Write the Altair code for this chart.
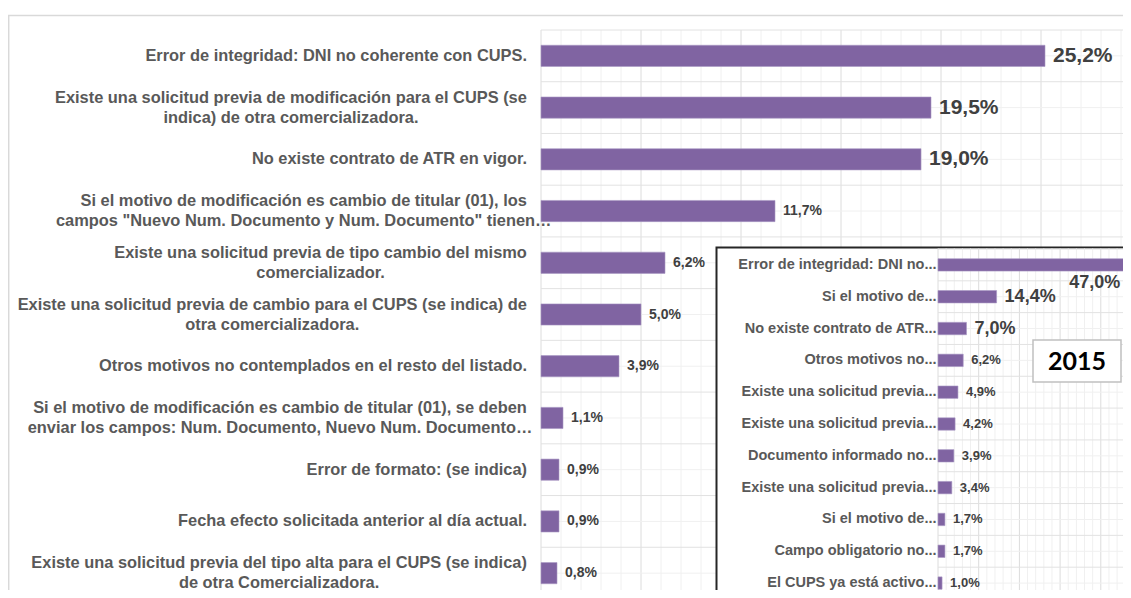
import altair as alt
import pandas as pd

# ---------------- data ----------------
main_labels = [
    "Error de integridad: DNI no coherente con CUPS.",
    "Existe una solicitud previa de modificación para el CUPS (se\nindica) de otra comercializadora.",
    "No existe contrato de ATR en vigor.",
    "Si el motivo de modificación es cambio de titular (01), los\ncampos \"Nuevo Num. Documento y Num. Documento\" tienen…",
    "Existe una solicitud previa de tipo cambio del mismo\ncomercializador.",
    "Existe una solicitud previa de cambio para el CUPS (se indica) de\notra comercializadora.",
    "Otros motivos no contemplados en el resto del listado.",
    "Si el motivo de modificación es cambio de titular (01), se deben\nenviar los campos: Num. Documento, Nuevo Num. Documento…",
    "Error de formato: (se indica)",
    "Fecha efecto solicitada anterior al día actual.",
    "Existe una solicitud previa del tipo alta para el CUPS (se indica)\nde otra Comercializadora.",
]
main_values = [25.2, 19.5, 19.0, 11.7, 6.2, 5.0, 3.9, 1.1, 0.9, 0.9, 0.8]

inset_labels = [
    "Error de integridad: DNI no...",
    "Si el motivo de...",
    "No existe contrato de ATR...",
    "Otros motivos no...",
    "Existe una solicitud previa...",
    "Existe una solicitud previa...",
    "Documento informado no...",
    "Existe una solicitud previa...",
    "Si el motivo de...",
    "Campo obligatorio no...",
    "El CUPS ya está activo...",
]
inset_values = [47.0, 14.4, 7.0, 6.2, 4.9, 4.2, 3.9, 3.4, 1.7, 1.7, 1.0]
inset_title = ["2015"]

# ---------------- layout helpers ----------------
FONT = "Liberation Sans"
LABEL_SIZE = 16.4
MAIN_W, MAIN_H = 582, 560
PX = 20.0                            # pixels per percent point (main chart)
MAIN_MAX = MAIN_W / PX               # x domain max of the main chart

# Arial/Helvetica Bold advance widths (1/1000 em) to centre wrapped labels
_up = dict(zip("ABCDEFGHIJKLMNOPQRSTUVWXYZ",
               [722, 722, 722, 722, 667, 611, 778, 722, 278, 556, 722, 611, 833,
                722, 778, 667, 778, 722, 667, 611, 722, 667, 944, 667, 667, 611]))
_lo = dict(zip("abcdefghijklmnopqrstuvwxyz",
               [556, 611, 556, 611, 556, 333, 611, 611, 278, 278, 556, 278, 889,
                611, 611, 611, 611, 389, 556, 333, 611, 556, 778, 556, 556, 500]))
_misc = {" ": 278, "!": 333, '"': 474, "%": 889, "(": 333, ")": 333, ",": 278,
         "-": 333, ".": 278, ":": 333, "…": 1000}
_acc = {"á": "a", "é": "e", "í": "i", "ó": "o", "ú": "u", "ñ": "n"}


def text_width(s, size):
    tot = 0
    for ch in s:
        ch = _acc.get(ch, ch)
        if ch.isdigit():
            tot += 556
        else:
            tot += _up.get(ch, _lo.get(ch, _misc.get(ch, 556)))
    return tot * size / 1000.0


main_keys = [f"{i:02d}" for i in range(1, len(main_values) + 1)]
main_df = pd.DataFrame({"k": main_keys, "label": main_labels, "v": main_values})
main_df["nl"] = [len(s.split("\n")) for s in main_labels]
main_df["lx"] = [
    0.0 if n == 1 else -(text_width(s.split("\n")[0], LABEL_SIZE) / 2) / PX
    for s, n in zip(main_labels, main_df["nl"])
]

inset_keys = [f"{i:02d}" for i in range(1, len(inset_values) + 1)]
inset_df = pd.DataFrame({"k": inset_keys, "label": inset_labels, "v": inset_values})

main_grid = pd.DataFrame({"g": list(range(0, 30))})
inset_grid = pd.DataFrame({"g": list(range(0, 52, 2))})
one = pd.DataFrame({"t": inset_title})

TXT = "replace(format(datum.v, '.1f'), '.', ',') + '%'"
PURPLE = "#8064A2"

# ---------------- main chart ----------------
xs = alt.Scale(domain=[0, MAIN_MAX], range=[0, MAIN_W], nice=False)
ys = alt.Scale(domain=main_keys, range=[0, 569], paddingInner=0, paddingOuter=0)

frame = alt.Chart(one).mark_rect(fill=None, stroke="#d9d9d9", strokeWidth=1.5).encode(
    x=alt.value(-532.3), y=alt.value(-14.5), x2=alt.value(700), y2=alt.value(700)
)

vgrid = alt.Chart(main_grid).mark_rule(strokeWidth=1).encode(
    x=alt.X("g:Q", scale=xs, axis=None),
    y=alt.value(0), y2=alt.value(600),
    color=alt.condition("datum.g % 5 === 0", alt.value("#dcdcdc"), alt.value("#f0f0f0")),
)
hgrid_b = alt.Chart(main_df).mark_rule(color="#e2e2e2", strokeWidth=1).encode(
    y=alt.Y("k:N", scale=ys, axis=None, bandPosition=0),
    x=alt.value(0), x2=alt.value(700),
)
hgrid_c = alt.Chart(main_df).mark_rule(color="#f0f0f0", strokeWidth=1).encode(
    y=alt.Y("k:N", scale=ys, axis=None, bandPosition=0.5),
    x=alt.value(0), x2=alt.value(700),
)
bars = alt.Chart(main_df).mark_bar(
    color=PURPLE, height=alt.RelativeBandSize(0.41), stroke="#a999c4", strokeWidth=0.6
).encode(
    x=alt.X("v:Q", scale=xs, axis=None),
    y=alt.Y("k:N", scale=ys, axis=None),
)
vals = alt.Chart(main_df).transform_calculate(txt=TXT).mark_text(
    align="left", baseline="middle", dx=8, font=FONT, fontWeight="bold", color="#404040"
).encode(
    x=alt.X("v:Q", scale=xs, axis=None),
    y=alt.Y("k:N", scale=ys, axis=None),
    text="txt:N",
    size=alt.condition("datum.v > 15", alt.value(21), alt.value(14)),
)
lab1 = alt.Chart(main_df).transform_filter("datum.nl == 1").mark_text(
    align="right", baseline="middle", dx=-14, font=FONT, fontWeight="bold",
    fontSize=LABEL_SIZE, color="#595959", lineBreak="\n", lineHeight=20,
).encode(
    x=alt.X("lx:Q", scale=xs, axis=None),
    y=alt.Y("k:N", scale=ys, axis=None),
    text="label:N",
)
lab2 = alt.Chart(main_df).transform_filter("datum.nl > 1").mark_text(
    align="center", baseline="middle", dx=-14, dy=-10, font=FONT, fontWeight="bold",
    fontSize=LABEL_SIZE, color="#595959", lineBreak="\n", lineHeight=20,
).encode(
    x=alt.X("lx:Q", scale=xs, axis=None),
    y=alt.Y("k:N", scale=ys, axis=None),
    text="label:N",
)
main = alt.layer(frame, vgrid, hgrid_b, hgrid_c, bars, vals, lab1, lab2)

# ---------------- inset (2015) ----------------
X0 = 397
xs2 = alt.Scale(domain=[0, 50], range=[X0, X0 + 50 * 4.07], nice=False)
ys2 = alt.Scale(domain=inset_keys, range=[219, 569], paddingInner=0, paddingOuter=0)

ibox = alt.Chart(one).mark_rect(fill="white", stroke="#262626", strokeWidth=2).encode(
    x=alt.value(175.5), y=alt.value(217.5), x2=alt.value(700), y2=alt.value(700)
)
ivgrid = alt.Chart(inset_grid).mark_rule(strokeWidth=1).encode(
    x=alt.X("g:Q", scale=xs2, axis=None),
    y=alt.value(218.5), y2=alt.value(600),
    color=alt.condition("datum.g % 10 === 0", alt.value("#dcdcdc"), alt.value("#f0f0f0")),
)
ihgrid_b = alt.Chart(inset_df).mark_rule(color="#e2e2e2", strokeWidth=1).encode(
    y=alt.Y("k:N", scale=ys2, axis=None, bandPosition=0),
    x=alt.value(X0), x2=alt.value(700),
)
ihgrid_c = alt.Chart(inset_df).mark_rule(color="#f0f0f0", strokeWidth=1).encode(
    y=alt.Y("k:N", scale=ys2, axis=None, bandPosition=0.5),
    x=alt.value(X0), x2=alt.value(700),
)
ibars = alt.Chart(inset_df).mark_bar(
    color=PURPLE, height=alt.RelativeBandSize(0.39), stroke="#a999c4", strokeWidth=0.6
).encode(
    x=alt.X("v:Q", scale=xs2, axis=None),
    y=alt.Y("k:N", scale=ys2, axis=None),
)
ivals = alt.Chart(inset_df).transform_joinaggregate(vmax="max(v)").transform_filter(
    "datum.v < datum.vmax"
).transform_calculate(txt=TXT).mark_text(
    align="left", baseline="middle", dx=8, font=FONT, fontWeight="bold", color="#404040"
).encode(
    x=alt.X("v:Q", scale=xs2, axis=None),
    y=alt.Y("k:N", scale=ys2, axis=None),
    text="txt:N",
    size=alt.condition("datum.v >= 7", alt.value(18), alt.value(13)),
)
ivmax = alt.Chart(inset_df).transform_joinaggregate(vmax="max(v)").transform_filter(
    "datum.v == datum.vmax"
).transform_calculate(txt=TXT).mark_text(
    align="right", baseline="middle", dx=-9, dy=18, font=FONT, fontWeight="bold",
    color="#404040", fontSize=18,
).encode(
    x=alt.X("v:Q", scale=xs2, axis=None),
    y=alt.Y("k:N", scale=ys2, axis=None),
    text="txt:N",
)
ilabs = alt.Chart(inset_df).transform_calculate(z="0").mark_text(
    align="right", baseline="middle", dx=-1.5, font=FONT, fontWeight="bold",
    fontSize=14.5, color="#595959",
).encode(
    x=alt.X("z:Q", scale=xs2, axis=None),
    y=alt.Y("k:N", scale=ys2, axis=None),
    text="label:N",
)
tbox = alt.Chart(one).mark_rect(fill="white", stroke="#c0c0c0", strokeWidth=1.5).encode(
    x=alt.value(492), y=alt.value(310), x2=alt.value(580), y2=alt.value(352)
)
ttext = alt.Chart(one).mark_text(
    align="center", baseline="middle", font="Lato", fontWeight="bold", fontSize=25,
    color="#000000",
).encode(x=alt.value(536), y=alt.value(332), text="t:N")

inset = alt.layer(ibox, ivgrid, ihgrid_b, ihgrid_c, ibars, ivals, ivmax, ilabs, tbox, ttext)

chart = (
    alt.layer(main, inset)
    .resolve_scale(x="independent", y="independent")
    .properties(
        width=MAIN_W,
        height=MAIN_H,
        autosize=alt.AutoSizeParams(type="none"),
        padding={"left": 533, "top": 22, "right": 0, "bottom": 0},
        background="white",
    )
    .configure_view(stroke=None)
)

chart.save("out.html", embed_options={"renderer": "svg", "actions": False})
